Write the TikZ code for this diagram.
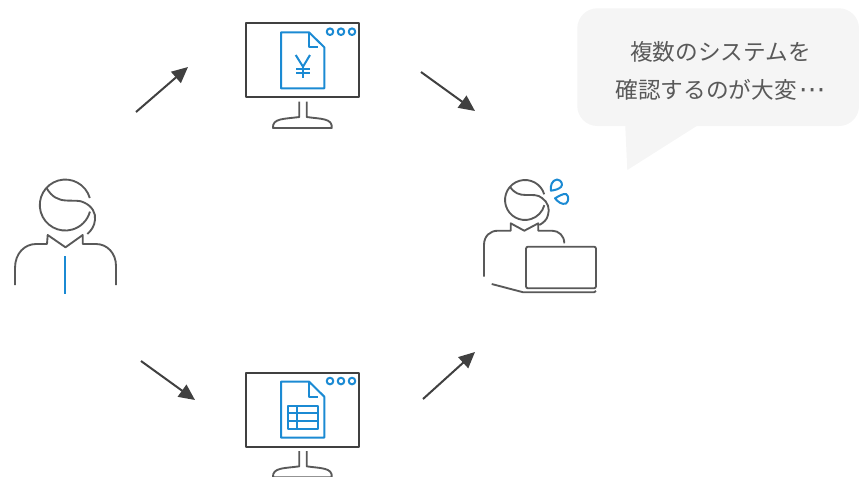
\documentclass[tikz,border=0pt]{standalone}
\usepackage{fontspec}
\setmainfont{Noto Sans CJK JP}
\newfontfamily\symf{DejaVu Sans}
\usetikzlibrary{arrows.meta}
\definecolor{dk}{HTML}{404040}
\definecolor{ln}{HTML}{595959}
\definecolor{bl}{HTML}{1B8AD3}
\definecolor{bub}{HTML}{F5F5F5}
\definecolor{txt}{HTML}{595959}
\tikzset{
  flow/.style={draw=dk,line width=1.5pt,-{Triangle[length=12pt,width=11pt]}},
  screen/.style={draw=dk,line width=1.5pt,line join=round},
  stand/.style={draw=ln,line width=1.4pt,line join=round},
  figline/.style={draw=ln,line width=1.4pt,line join=round},
  blueline/.style={draw=bl,line width=1.5pt,line join=round},
  say/.style={text=txt,font=\fontsize{17pt}{20pt}\selectfont,inner sep=0pt,anchor=center}
}
\newcommand{\monitor}[1]{%
  \begin{scope}[yshift=#1]
    \draw[screen] (245.7,23.3) rectangle (359.3,97.3);
    \draw[stand] (299.3,101.7) -- (299.3,117) .. controls (285,119) and (272,118) .. (273,128) -- (331.7,128) .. controls (333,118) and (320,119) .. (306.7,117) -- (306.7,101.7);
    \draw[blueline] (281,32.3) -- (309,32.3) -- (324.3,47.3) -- (324.3,88.3) -- (281,88.3) -- cycle;
    \draw[blueline] (309,32.3) -- (309,47.3) -- (318,47.3);
    \foreach \cx in {330,341,352} \draw[blueline] (\cx,31.7) circle (3.3);
  \end{scope}}
\begin{document}
\begin{tikzpicture}[x=0.75pt,y=-0.75pt]
\useasboundingbox (0,0) rectangle (859,476);
% speech bubble
\fill[bub,rounded corners=15pt] (577.3,8.3) rectangle (859,126);
\fill[bub] (625,120) -- (627.3,170) -- (696.7,126) -- (696.7,120) -- cycle;
\node[say] (line1) at (720.5,52) {複数のシステムを};
\node[say] (line2) at (720.5,90) {確認するのが大変\hspace{0.08em}{\fontsize{20pt}{20pt}\symf ⋯}};
% monitors
\monitor{0}
\monitor{-262pt}
% yen
\draw[blueline] (295.7,55) -- (303,66.7) -- (310,55);
\draw[blueline] (303,66.7) -- (303,77.7);
\draw[blueline] (296,69.3) -- (310,69.3) (296,73.3) -- (310,73.3);
% table
\draw[blueline] (288.3,405.7) rectangle (317.7,429.3);
\draw[blueline] (288.3,413.3) -- (317.7,413.3) (288.3,421.3) -- (317.7,421.3) (296.7,405.7) -- (296.7,429.3);
% left person
\draw[figline] (89.8,198) arc[start angle=-16,end angle=-345,radius=25.5];
\draw[figline] (46.7,188.3) .. controls (52,197) and (58,200) .. (66,200.5) .. controls (74,201) and (80,200) .. (84,202.5) .. controls (92,206) and (96,213) .. (95,220) .. controls (94.5,226) and (91,231) .. (87.3,234);
\draw[figline] (15,285) -- (15,268) .. controls (15,253) and (25,244) .. (36,244) -- (47,244) -- (47.7,235) -- (65.5,247.3) -- (82.7,235) -- (82.7,244) -- (96,244) .. controls (107,244) and (116,253) .. (116,266) -- (116,285);
\draw[blueline] (65.3,256) -- (65.3,294);
% right person
\draw[figline] (544.2,194.3) arc[start angle=-16.5,end angle=-345,radius=20];
\draw[figline] (510,186.7) .. controls (514,193) and (519,195) .. (526,195) .. controls (533,195) and (538,194.5) .. (542,198) .. controls (548,202) and (550,209) .. (548,215) .. controls (547,220) and (543,223) .. (539.3,225);
\draw[figline] (484,276.7) -- (484,245) .. controls (484,236) and (490,230.7) .. (498,230.7) -- (510.7,230.7) -- (510.7,223.3) -- (524.3,230.7) -- (538.3,223.3) -- (538.3,230.7) -- (552,230.7) .. controls (559,230.7) and (564.3,236) .. (564.3,243.3);
\draw[figline,rounded corners=1.5pt] (526,246.7) rectangle (596,288.3);
\draw[figline] (491.7,284) -- (523.3,292.3) -- (594,292.3) -- (596,291);
% sweat drops
\draw[blueline] (551,190.7) .. controls (550,186) and (552,180) .. (557,179.5) .. controls (562,180) and (563,185) .. (561,187) .. controls (558,189.5) and (555,190) .. (551,190.7) -- cycle;
\draw[blueline] (555,198.3) .. controls (559,196) and (563,193.5) .. (566,194) .. controls (569,196) and (569,201) .. (566,203.5) .. controls (562,205) and (558,202) .. (555,198.3) -- cycle;
% connector ends
\coordinate (a1) at (136,112); \coordinate (a2) at (188,67);
\coordinate (b1) at (421,72);  \coordinate (b2) at (475,111);
\coordinate (c1) at (141,361); \coordinate (c2) at (195,400);
\coordinate (d1) at (423,399); \coordinate (d2) at (475,352);
\draw[flow] (a1) -- (a2);
\draw[flow] (b1) -- (b2);
\draw[flow] (c1) -- (c2);
\draw[flow] (d1) -- (d2);
\end{tikzpicture}
\end{document}
